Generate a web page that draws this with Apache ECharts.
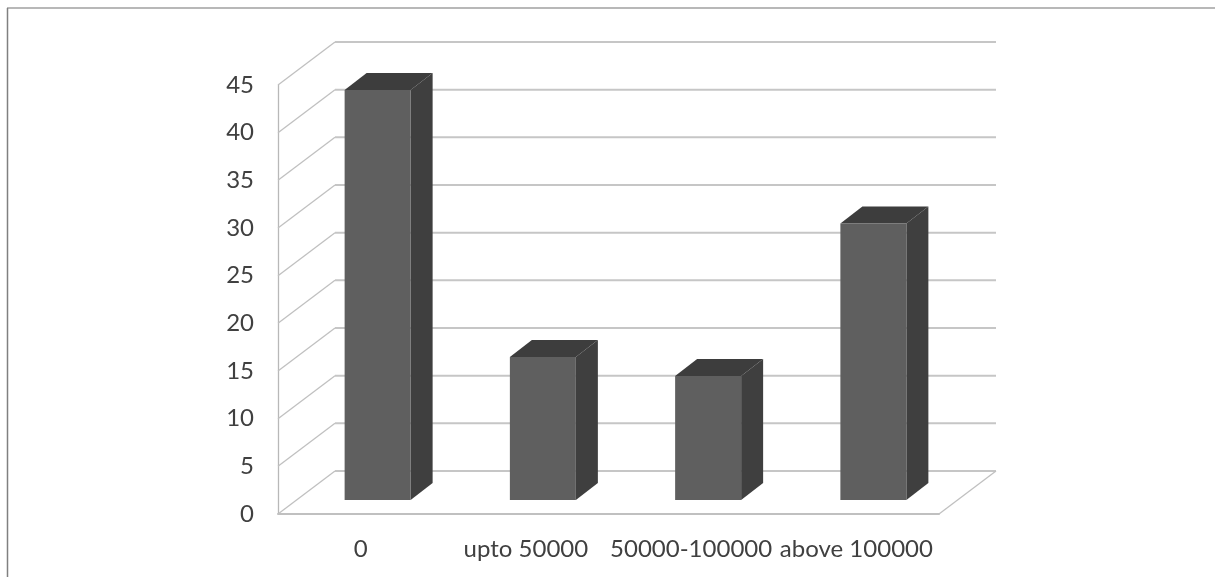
<!DOCTYPE html>
<html>
<head>
<meta charset="utf-8">
<script src="https://cdn.jsdelivr.net/npm/echarts@6/dist/echarts.min.js"></script>
<style>
  html, body { margin: 0; padding: 0; background: #fff; }
  #chart { width: 1215px; height: 577px; }
</style>
</head>
<body>
<div id="chart"></div>
<script>
const categories = ['0', 'upto 50000', '50000-100000', 'above 100000'];
const values = [43, 15, 13, 29];
const yTicks = [0, 5, 10, 15, 20, 25, 30, 35, 40, 45];

// fake 3d offsets, px
const WALL_DX = 57, WALL_DY = -43;
const BAR_DX = 17, BAR_DY = -14;
const DEPTH_DX = 22, DEPTH_DY = -17;
const BAR_W = 66;

const chart = echarts.init(document.getElementById('chart'));

function renderWall(params, api) {
  const cs = params.coordSys;
  const v = api.value(1);
  const y = api.coord([0, v])[1];
  const style = { stroke: '#c6c6c6', lineWidth: 2, fill: 'none' };
  const children = [
    {
      type: 'line',
      shape: { x1: cs.x, y1: y, x2: cs.x + WALL_DX, y2: y + WALL_DY },
      style: { stroke: '#c0c0c0', lineWidth: 1.3 }
    },
    {
      type: 'line',
      shape: { x1: cs.x + WALL_DX, y1: y + WALL_DY, x2: cs.x + cs.width + WALL_DX, y2: y + WALL_DY },
      style: style
    }
  ];
  // floor edge on the right
  if (v === 0) {
    children.push({
      type: 'line',
      shape: { x1: cs.x + cs.width, y1: y, x2: cs.x + cs.width + WALL_DX, y2: y + WALL_DY },
      style: { stroke: '#c0c0c0', lineWidth: 1.3 }
    });
  }
  return { type: 'group', children: children };
}

function renderBar(params, api) {
  const top = api.coord([api.value(0), api.value(1)]);
  const base = api.coord([api.value(0), 0]);
  const l = top[0] + BAR_DX - BAR_W / 2;
  const r = l + BAR_W;
  const t = top[1] + BAR_DY;
  const b = base[1] + BAR_DY;
  return {
    type: 'group',
    children: [
      {
        type: 'polygon',
        shape: { points: [[r, t], [r + DEPTH_DX, t + DEPTH_DY], [r + DEPTH_DX, b + DEPTH_DY], [r, b]] },
        style: { fill: '#3f3f3f' }
      },
      {
        type: 'polygon',
        shape: { points: [[l, t], [l + DEPTH_DX, t + DEPTH_DY], [r + DEPTH_DX, t + DEPTH_DY], [r, t]] },
        style: { fill: '#3d3d3d' }
      },
      {
        type: 'rect',
        shape: { x: l, y: t, width: BAR_W, height: b - t },
        style: { fill: '#5f5f5f' }
      }
    ]
  };
}

const option = {
  backgroundColor: '#fff',
  animation: false,
  graphic: [
    { type: 'line', shape: { x1: 7, y1: 8, x2: 1215, y2: 8 }, style: { stroke: '#a0a0a0', lineWidth: 1.5 } },
    { type: 'line', shape: { x1: 7.5, y1: 8, x2: 7.5, y2: 577 }, style: { stroke: '#808080', lineWidth: 1.5 } }
  ],
  grid: { left: 278, top: 85, width: 661, height: 429 },
  xAxis: {
    type: 'category',
    data: categories,
    axisTick: { show: false },
    axisLine: { lineStyle: { color: '#c0c0c0', width: 2 } },
    axisLabel: {
      color: '#404040',
      fontFamily: 'Lato',
      fontSize: 24,
      margin: 23,
      interval: 0
    }
  },
  yAxis: {
    type: 'value',
    min: 0,
    max: 45,
    interval: 5,
    splitLine: { show: false },
    axisTick: { show: false },
    axisLine: { show: true, lineStyle: { color: '#b8b8b8', width: 1.3 } },
    axisLabel: {
      color: '#404040',
      fontFamily: 'Lato',
      fontSize: 24,
      margin: 24,
      padding: [3, 0, 0, 0]
    }
  },
  series: [
    {
      type: 'custom',
      renderItem: renderWall,
      data: yTicks.map(v => [0, v]),
      silent: true,
      z: 1
    },
    {
      type: 'custom',
      renderItem: renderBar,
      data: values.map((v, i) => [i, v]),
      z: 2
    }
  ]
};

chart.setOption(option);
</script>
</body>
</html>
